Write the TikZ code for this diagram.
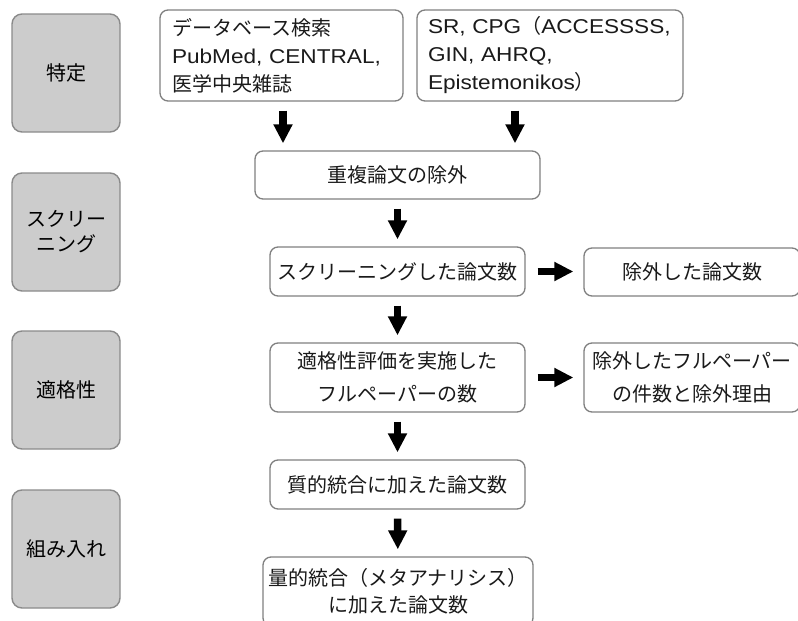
\documentclass[tikz,border=0pt]{standalone}
\usepackage{fontspec}
\setmainfont{Noto Sans CJK JP}
\newfontfamily\lat[FakeStretch=1.13]{Liberation Sans}
\usetikzlibrary{arrows.meta,calc}
\definecolor{phasefill}{HTML}{CCCCCC}
\definecolor{phaseline}{HTML}{8A8A8A}
\definecolor{boxline}{HTML}{808080}
\definecolor{txt}{HTML}{1A1A1A}
\begin{document}
\begin{tikzpicture}[x=1pt,y=-1pt,
  phase/.style={rectangle, rounded corners=10pt, draw=phaseline, fill=phasefill,
    line width=1.4pt, minimum width=108pt, minimum height=118pt, inner sep=0pt,
    align=center, text=black},
  stepbox/.style={rectangle, rounded corners=8pt, draw=boxline, fill=white,
    line width=1.3pt, inner sep=0pt, align=center, text=txt},
  bigarrow/.style={line width=7.5pt, -{Triangle[length=19pt,width=18pt]}, black},
  fs/.style={font=\fontsize{20}{#1}\selectfont}
]
\useasboundingbox (0,0) rectangle (798,621);

% phase boxes
\node[phase, fs=28] (p1) at (66,73) {特定};
\node[phase, fs=25] (p2) at (66,232) {スクリー\\ニング};
\node[phase, fs=28] (p3) at (66,390) {適格性};
\node[phase, fs=28] (p4) at (66,549) {組み入れ};

% flow boxes
\node[stepbox, fs=28, align=left, text width=219pt, inner xsep=12pt, minimum height=91pt]
  (db) at (281.5,55.5) {データベース検索\\\mbox{\lat PubMed, CENTRAL,}\\医学中央雑誌};
\node[stepbox, fs=28, align=left, text width=256pt, inner xsep=5pt, minimum height=91pt]
  (sr) at (550,55.5) {\hspace*{6pt}\mbox{{\lat SR, CPG}（{\lat ACCESSSS,}}\\\hspace*{6pt}\mbox{\lat GIN, AHRQ,}\\\hspace*{6pt}\mbox{{\lat Epistemonikos}）}};
\node[stepbox, fs=28, minimum width=285pt, minimum height=48pt] (dup) at (397.5,175) {重複論文の除外};
\node[stepbox, fs=28, minimum width=255pt, minimum height=49pt] (scr) at (397.5,271.5) {スクリーニングした論文数};
\node[stepbox, fs=28, minimum width=216pt, minimum height=48pt] (exc1) at (692,272) {除外した論文数};
\node[stepbox, fs=33, minimum width=255pt, minimum height=69pt] (elig) at (397.5,377.5) {適格性評価を実施した\\フルペーパーの数};
\node[stepbox, fs=33, minimum width=216pt, minimum height=69pt] (exc2) at (692,377.5) {除外したフルペーパー\\の件数と除外理由};
\node[stepbox, fs=28, minimum width=255pt, minimum height=49pt] (qual) at (397.5,484.5) {質的統合に加えた論文数};
\node[stepbox, fs=27, minimum width=270pt, minimum height=69pt] (quant) at (398,591.5) {量的統合（メタアナリシス）\\に加えた論文数};

% arrows
\coordinate (dbout) at (283,0 |- db.south);
\coordinate (srout) at ($(sr.south)+(-35,0)$);
\draw[bigarrow, shorten <=9pt, shorten >=7pt] (dbout) -- (dbout |- dup.north);
\draw[bigarrow, shorten <=9pt, shorten >=7pt] (srout) -- (srout |- dup.north);
\draw[bigarrow, shorten <=9pt, shorten >=7pt] (dup) -- (scr);
\draw[bigarrow, shorten <=9pt, shorten >=7pt] (scr) -- (elig);
\draw[bigarrow, shorten <=9pt, shorten >=7pt] (elig) -- (qual);
\draw[bigarrow, shorten <=9pt, shorten >=7pt] (qual) -- (quant);
\draw[bigarrow, shorten <=12pt, shorten >=10pt] (scr) -- (scr -| exc1.west);
\draw[bigarrow, shorten <=12pt, shorten >=10pt] (elig) -- (elig -| exc2.west);
\end{tikzpicture}
\end{document}
